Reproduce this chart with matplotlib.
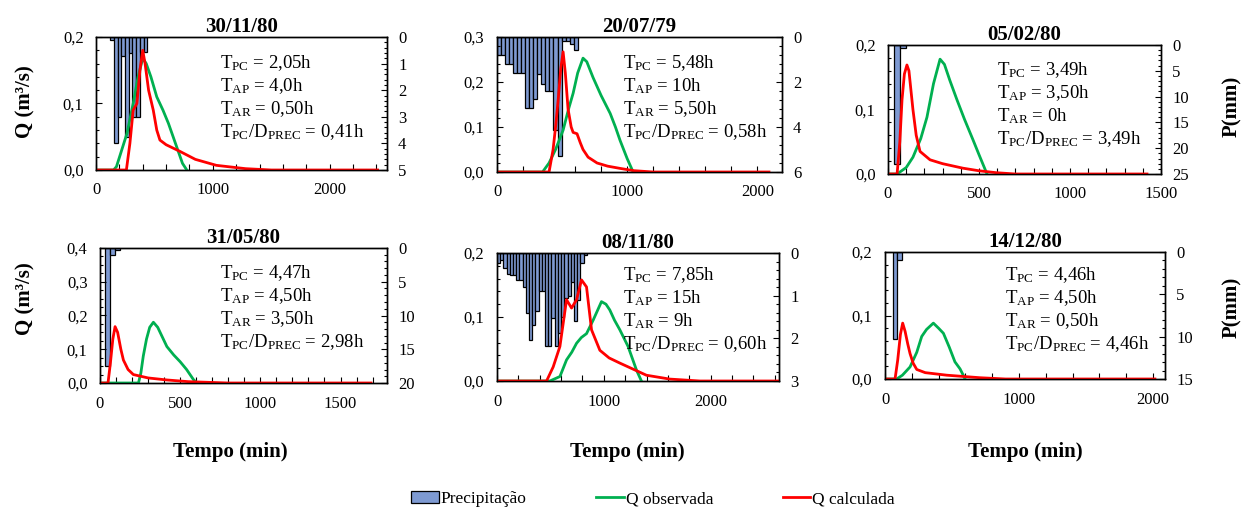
import matplotlib
matplotlib.use('Agg')
import matplotlib.pyplot as plt
from matplotlib.ticker import MultipleLocator, FuncFormatter
from matplotlib.patches import Patch
from matplotlib.lines import Line2D

plt.rcParams['font.family'] = ['Liberation Serif', 'DejaVu Serif']
plt.rcParams['mathtext.fontset'] = 'custom'
plt.rcParams['mathtext.rm'] = 'Liberation Serif'
plt.rcParams['mathtext.it'] = 'Liberation Serif:italic'
plt.rcParams['mathtext.bf'] = 'Liberation Serif:bold'

# ---- data ----
dates = ['30/11/80', '20/07/79', '05/02/80', '31/05/80', '08/11/80', '14/12/80']

# precipitation: bar start times (min), bar width (min), depth (mm)
p1_t0, p1_dt = 120, 32
p1_mm = [0.1, 4.0, 3.0, 0.7, 3.75, 0.6, 3.0, 3.0, 0.55, 0.55]
p2_t0, p2_dt = 0, 31
p2_mm = [0.8, 0.8, 1.2, 1.2, 1.6, 1.6, 1.6, 3.15, 3.15, 2.75,
         1.65, 2.1, 2.4, 2.4, 4.15, 5.3, 0.2, 0.2, 0.3, 0.6]
p3_t0, p3_dt = 33, 33
p3_mm = [23.0, 0.6]
p4_t0, p4_dt = 31, 31
p4_mm = [17.5, 1.0, 0.3]
p5_t0, p5_dt = 0, 30
p5_mm = [0.24, 0.16, 0.35, 0.5, 0.52, 0.52, 0.63, 0.63, 0.79, 1.41,
         2.04, 1.69, 1.37, 0.9, 0.9, 2.19, 2.19, 1.53, 2.19, 1.87,
         1.5, 1.06, 1.0, 0.67, 1.6, 1.1, 0.24, 0.05]
p6_t0, p6_dt = 57, 34
p6_mm = [10.3, 0.95]

# observed discharge (green)
obs1_t = [0, 150, 175, 220, 265, 318, 360, 400, 430, 470, 520, 573, 620, 660, 700, 740, 777]
obs1_q = [0, 0, 0.005, 0.03, 0.055, 0.1, 0.14, 0.168, 0.16, 0.14, 0.11, 0.09, 0.07, 0.05, 0.03, 0.01, 0]
obs2_t = [0, 350, 400, 450, 508, 550, 585, 620, 661, 690, 738, 800, 870, 910, 946, 1000, 1046]
obs2_q = [0, 0, 0.02, 0.05, 0.093, 0.14, 0.175, 0.22, 0.253, 0.245, 0.21, 0.17, 0.13, 0.1, 0.07, 0.03, 0]
obs3_t = [0, 50, 100, 137, 180, 214, 250, 286, 310, 340, 379, 420, 467, 500, 544]
obs3_q = [0, 0, 0.01, 0.026, 0.055, 0.088, 0.14, 0.178, 0.17, 0.145, 0.115, 0.085, 0.053, 0.03, 0]
obs4_t = [0, 240, 255, 270, 290, 310, 333, 360, 390, 417, 460, 500, 540, 583, 604]
obs4_q = [0, 0, 0.03, 0.08, 0.13, 0.165, 0.18, 0.165, 0.135, 0.108, 0.083, 0.063, 0.04, 0.01, 0]
obs5_t = [0, 495, 589, 651, 700, 745, 790, 838, 900, 978, 1020, 1056, 1100, 1150, 1227, 1306, 1352]
obs5_q = [0, 0, 0.007, 0.033, 0.045, 0.059, 0.068, 0.074, 0.095, 0.124, 0.12, 0.111, 0.095, 0.08, 0.054, 0.017, 0]
obs6_t = [0, 87, 130, 187, 237, 274, 310, 361, 400, 436, 480, 522, 560, 584, 597]
obs6_q = [0, 0, 0.006, 0.019, 0.042, 0.067, 0.078, 0.088, 0.08, 0.072, 0.05, 0.027, 0.016, 0.006, 0]

# calculated discharge (red)
calc1_t = [0, 260, 290, 318, 350, 376, 400, 420, 450, 490, 520, 547, 600, 718, 850, 1030, 1280, 1500, 2410]
calc1_q = [0, 0, 0.04, 0.09, 0.1, 0.15, 0.18, 0.16, 0.12, 0.09, 0.06, 0.045, 0.038, 0.028, 0.016, 0.007, 0.002, 0, 0]
calc2_t = [0, 400, 431, 450, 470, 490, 508, 525, 546, 570, 585, 615, 640, 661, 700, 769, 850, 946, 1050, 1200, 2090]
calc2_q = [0, 0, 0.05, 0.1, 0.16, 0.23, 0.267, 0.22, 0.14, 0.1, 0.088, 0.085, 0.065, 0.05, 0.033, 0.02, 0.013, 0.008, 0.003, 0, 0]
calc3_t = [0, 50, 65, 77, 90, 104, 115, 137, 155, 176, 231, 300, 412, 500, 595, 700, 1423]
calc3_q = [0, 0, 0.05, 0.115, 0.155, 0.169, 0.16, 0.1, 0.06, 0.035, 0.022, 0.016, 0.009, 0.005, 0.002, 0, 0]
calc4_t = [0, 50, 65, 80, 94, 110, 130, 146, 175, 208, 300, 417, 550, 800, 1690]
calc4_q = [0, 0, 0.06, 0.13, 0.167, 0.15, 0.1, 0.068, 0.04, 0.025, 0.015, 0.009, 0.004, 0, 0]
calc5_t = [0, 464, 526, 589, 651, 698, 745, 791, 838, 885, 963, 1050, 1150, 1399, 1617, 1900, 2636]
calc5_q = [0, 0, 0.022, 0.054, 0.127, 0.114, 0.127, 0.158, 0.147, 0.08, 0.048, 0.036, 0.028, 0.009, 0.003, 0, 0]
calc6_t = [0, 75, 95, 115, 132, 150, 170, 187, 210, 237, 300, 461, 709, 900, 2015]
calc6_q = [0, 0, 0.03, 0.07, 0.088, 0.075, 0.055, 0.04, 0.025, 0.015, 0.01, 0.006, 0.002, 0, 0]

tpc = ['2,05h', '5,48h', '3,49h', '4,47h', '7,85h', '4,46h']
tap = ['4,0h', '10h', '3,50h', '4,50h', '15h', '4,50h']
tar = ['0,50h', '5,50h', '0h', '3,50h', '9h', '0,50h']
tpc_d = ['0,41h', '0,58h', '3,49h', '2,98h', '0,60h', '4,46h']

precip = [(p1_t0, p1_dt, p1_mm), (p2_t0, p2_dt, p2_mm), (p3_t0, p3_dt, p3_mm),
          (p4_t0, p4_dt, p4_mm), (p5_t0, p5_dt, p5_mm), (p6_t0, p6_dt, p6_mm)]
obs = [(obs1_t, obs1_q), (obs2_t, obs2_q), (obs3_t, obs3_q),
       (obs4_t, obs4_q), (obs5_t, obs5_q), (obs6_t, obs6_q)]
calc = [(calc1_t, calc1_q), (calc2_t, calc2_q), (calc3_t, calc3_q),
        (calc4_t, calc4_q), (calc5_t, calc5_q), (calc6_t, calc6_q)]

# ---- layout: (left, top, right, bottom) in pixels, axis limits, tick steps ----
W, H = 1245, 511
boxes = [(96, 37, 387, 170), (497, 37, 782, 172), (888, 45, 1161, 174),
         (100, 248, 387, 383), (497, 253, 779, 381), (885, 252, 1165, 379)]
xmax = [2490, 2190, 1500, 1790, 2640, 2090]
xmaj = [1000, 1000, 500, 500, 1000, 1000]
xmin_ = [200, 200, 100, 100, 200, 200]
qmax = [0.2, 0.3, 0.2, 0.4, 0.2, 0.2]
qmin_ = [0.02, 0.02, 0.02, 0.025, 0.02, 0.02]
pmax = [5, 6, 25, 20, 3, 15]
pmaj = [1, 2, 5, 5, 1, 5]
pmin_ = [0.2, 0.4, 1, 1, 0.2, 1]
txt_xy = [(0.426, 0.805), (0.442, 0.807), (0.40, 0.806),
          (0.418, 0.815), (0.447, 0.828), (0.429, 0.819)]

BAR_C = '#7E9AD2'
OBS_C = '#00B050'
CALC_C = '#FF0000'

comma = FuncFormatter(lambda v, pos: ('%.1f' % v).replace('.', ','))

fig = plt.figure(figsize=(W / 100, H / 100), dpi=100)

for i in range(6):
    l, t, r, b = boxes[i]
    ax = fig.add_axes([l / W, 1 - b / H, (r - l) / W, (b - t) / H])
    ax2 = ax.twinx()

    t0, dt, mm = precip[i]
    starts = [t0 + k * dt for k in range(len(mm))]
    ax2.bar(starts, mm, width=dt, align='edge', color=BAR_C,
            edgecolor='black', linewidth=0.9)
    ax2.set_ylim(pmax[i], 0)
    ax2.yaxis.set_major_locator(MultipleLocator(pmaj[i]))
    ax2.yaxis.set_minor_locator(MultipleLocator(pmin_[i]))

    ax.plot(obs[i][0], obs[i][1], color=OBS_C, lw=2)
    ax.plot(calc[i][0], calc[i][1], color=CALC_C, lw=2)
    ax.set_xlim(0, xmax[i])
    ax.set_ylim(0, qmax[i])
    ax.xaxis.set_major_locator(MultipleLocator(xmaj[i]))
    ax.xaxis.set_minor_locator(MultipleLocator(xmin_[i]))
    ax.yaxis.set_major_locator(MultipleLocator(0.1))
    ax.yaxis.set_minor_locator(MultipleLocator(qmin_[i]))
    ax.yaxis.set_major_formatter(comma)

    ax.set_zorder(ax2.get_zorder() + 1)
    ax.patch.set_visible(False)

    for a in (ax, ax2):
        a.tick_params(which='both', direction='in', labelsize=12, width=0.8)
        a.tick_params(which='major', length=4)
        a.tick_params(which='minor', length=2.5)
        for s in a.spines.values():
            s.set_linewidth(1.0)
    ax.tick_params(axis='x', which='both', length=4)
    ax.tick_params(axis='x', which='major', pad=9)
    ax.tick_params(axis='y', which='major', pad=9)
    ax2.tick_params(axis='y', which='major', pad=8)

    ax.set_title(dates[i], fontsize=15, fontweight='bold', pad=3)

    lines = [r'T$_{\mathrm{PC}}$ = ' + tpc[i],
             r'T$_{\mathrm{AP}}$ = ' + tap[i],
             r'T$_{\mathrm{AR}}$ = ' + tar[i],
             r'T$_{\mathrm{PC}}$/D$_{\mathrm{PREC}}$ = ' + tpc_d[i]]
    for k, s in enumerate(lines):
        ax.annotate(s, xy=txt_xy[i], xycoords='axes fraction',
                    xytext=(0, -k * 16.6), textcoords='offset points',
                    ha='left', va='center', fontsize=13.5)

# side labels
for y in (102, 299):
    fig.text(25 / W, 1 - y / H, 'Q (m³/s)', rotation=90, ha='center', va='center',
             fontsize=15, fontweight='bold')
for y in (106, 307):
    fig.text(1232 / W, 1 - y / H, 'P(mm)', rotation=90, ha='center', va='center',
             fontsize=15, fontweight='bold')
for x in (230, 627, 1025):
    fig.text(x / W, 1 - 452 / H, 'Tempo (min)', ha='center', va='center',
             fontsize=15, fontweight='bold')

handles = [Patch(facecolor=BAR_C, edgecolor='black', linewidth=0.9),
           Line2D([], [], color=OBS_C, lw=2),
           Line2D([], [], color=CALC_C, lw=2)]
fig.legend(handles, ['Precipitação', 'Q observada', 'Q calculada'],
           loc='center', bbox_to_anchor=(653 / W, 1 - 499 / H), ncol=3,
           frameon=False, fontsize=12.5, handlelength=1.6, handletextpad=0.1,
           columnspacing=4.0)

fig.savefig('out.png', dpi=100, facecolor='white')
